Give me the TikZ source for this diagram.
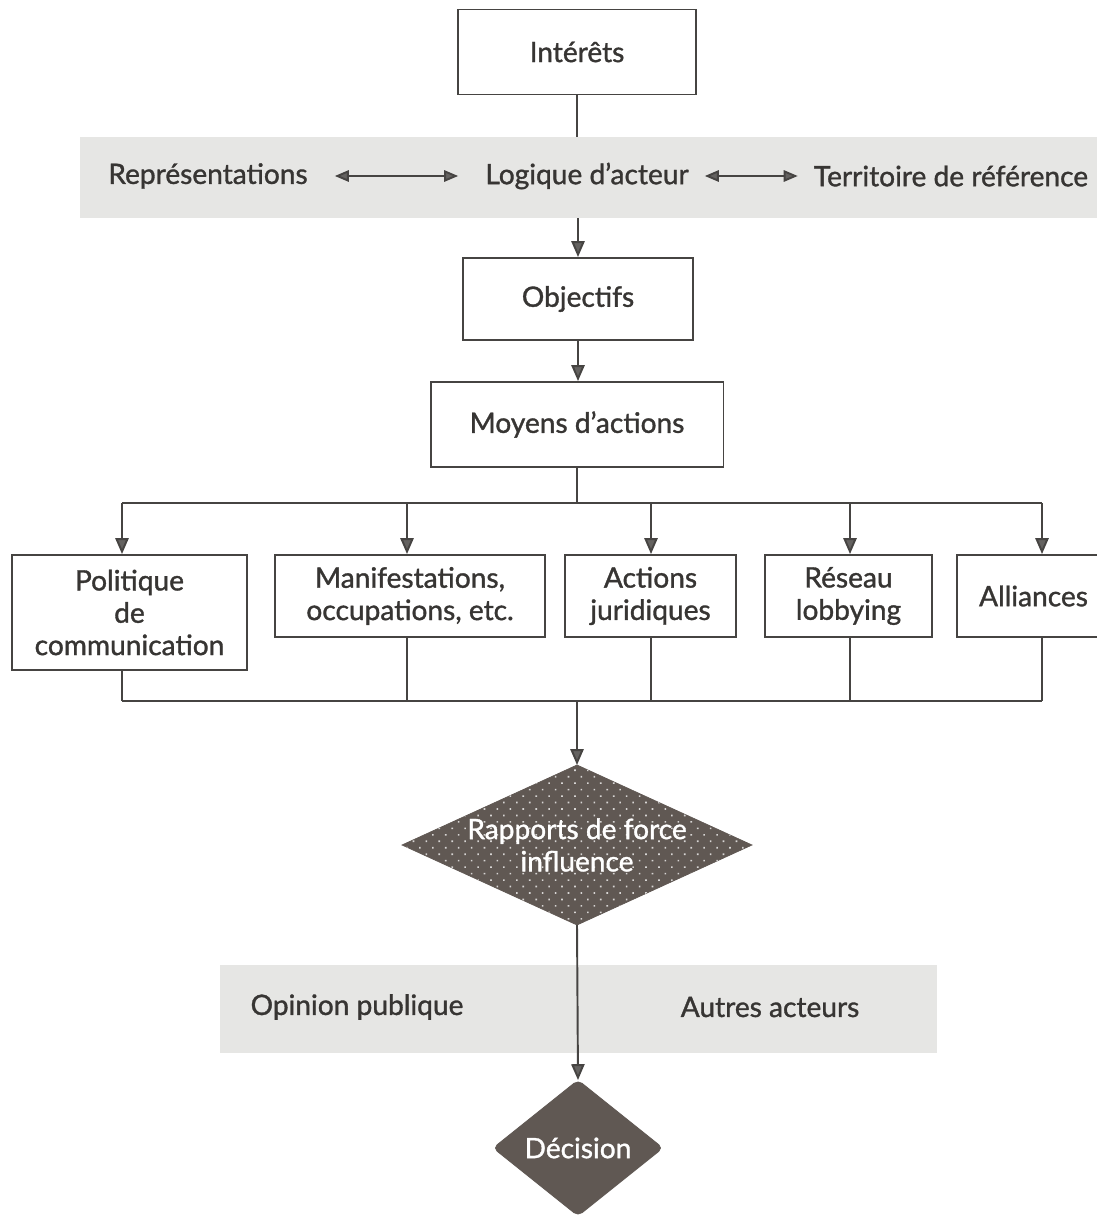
\documentclass[tikz,border=0pt]{standalone}
\usepackage{fontspec}
\setmainfont{Lato}
\newfontfamily\lblfont{Lato}[FakeBold=1.2]
\usetikzlibrary{shapes.geometric,arrows.meta,patterns.meta}
\definecolor{ink}{RGB}{55,53,51}
\definecolor{rulec}{RGB}{70,68,66}
\definecolor{tipc}{RGB}{100,98,96}
\definecolor{bandgray}{RGB}{230,230,228}
\definecolor{diafill}{RGB}{96,88,83}
\begin{document}
\begin{tikzpicture}[x=0.02cm,y=-0.02cm,
  txt/.style={font=\lblfont\fontsize{16}{18.4}\selectfont, text=ink, align=center},
  wtxt/.style={txt, text=white},
  box/.style={txt, draw=rulec, line width=1.1pt, fill=white, inner sep=0pt},
  bandbox/.style={fill=bandgray, draw=none, inner sep=0pt},
  conn/.style={draw=rulec, line width=1.1pt},
  arr/.style={conn, -{Triangle[length=9pt,width=7.5pt,fill=tipc]}},
  darr/.style={conn, {Triangle[length=8pt,width=6.5pt,fill=tipc]}-{Triangle[length=8pt,width=6.5pt,fill=tipc]}},
  dia/.style={diamond, fill=diafill, draw=diafill, inner sep=0pt, outer sep=0pt}]
\useasboundingbox (0,0) rectangle (1097,1216);
\fill[white] (0,0) rectangle (1097,1216);

% grey bands
\node[bandbox, minimum width=20.34cm, minimum height=1.62cm] (band1) at (588.5,177.5) {};
\node[bandbox, minimum width=14.34cm, minimum height=1.76cm] (band2) at (578.5,1009) {};

% top column
\node[box, minimum width=4.76cm, minimum height=1.7cm] (int) at (577,52) {Intérêts};
\node[txt] (rep) at (208,176) {Représentations};
\node[txt] (log) at (587,176) {Logique d’acteur};
\node[txt] (ter) at (951,176) {Territoire de référence};
\node[box, minimum width=4.6cm, minimum height=1.64cm] (obj) at (578,299) {Objectifs};
\node[box, minimum width=5.86cm, minimum height=1.7cm] (moy) at (577,424.5) {Moyens d’actions};

\draw[conn] (int.south) -- (int.south |- band1.north);
\draw[darr, shorten <=0.42cm, shorten >=0.42cm] (rep.east) -- (log.west);
\draw[darr, shorten <=0.2cm, shorten >=0.2cm] (log.east) -- (ter.west);
\draw[arr] (obj.north |- band1.south) -- (obj.north);
\draw[arr] (obj.south) -- (obj.south |- moy.north);

% row of means
\node[box, minimum width=4.7cm, minimum height=2.3cm] (pol) at (129.5,612.5) {Politique\\de\\communication};
\node[box, minimum width=5.4cm, minimum height=1.64cm] (man) at (410,596) {Manifestations,\\occupations, etc.};
\node[box, minimum width=3.42cm, minimum height=1.64cm] (act) at (650.5,596) {Actions\\juridiques};
\node[box, minimum width=3.34cm, minimum height=1.64cm] (res) at (848.5,596) {Réseau\\lobbying};
\node[box, minimum width=3.06cm, minimum height=1.64cm] (all) at (1033.5,596) {Alliances};

\coordinate (c1) at (122,0);
\coordinate (c2) at (407,0);
\coordinate (c3) at (651,0);
\coordinate (c4) at (850,0);
\coordinate (c5) at (1042,0);
\coordinate (tb) at (577,503);
\coordinate (bb) at (577,701);

\draw[conn] (moy.south) -- (tb);
\draw[conn] (c1 |- tb) -- (c5 |- tb);
\foreach \c/\n in {c1/pol,c2/man,c3/act,c4/res,c5/all}{
  \draw[arr] (\c |- tb) -- (\c |- \n.north);
  \draw[conn] (\c |- \n.south) -- (\c |- bb);
}
\draw[conn] (c1 |- bb) -- (c5 |- bb);

% diamonds
\node[dia, minimum width=7cm, minimum height=3.2cm,
  postaction={pattern={Dots[distance=5.2pt,radius=0.65pt,angle=45]}, pattern color=white!75!diafill}]
  (rap) at (577,845) {};
\node[wtxt] (raptxt) at (rap.center) {Rapports de force\\influence};
\draw[arr] (bb) -- (rap.north);

\node[txt] (opi) at (357,1007) {Opinion publique};
\node[txt] (aut) at (770,1007) {Autres acteurs};

\node[dia, rounded corners=3pt, minimum width=3.4cm, minimum height=2.72cm] (dec) at (578,1148) {};
\node[wtxt] (dectxt) at (dec.center) {Décision};
\draw[arr] (rap.south) -- (dec.north);
\end{tikzpicture}
\end{document}
